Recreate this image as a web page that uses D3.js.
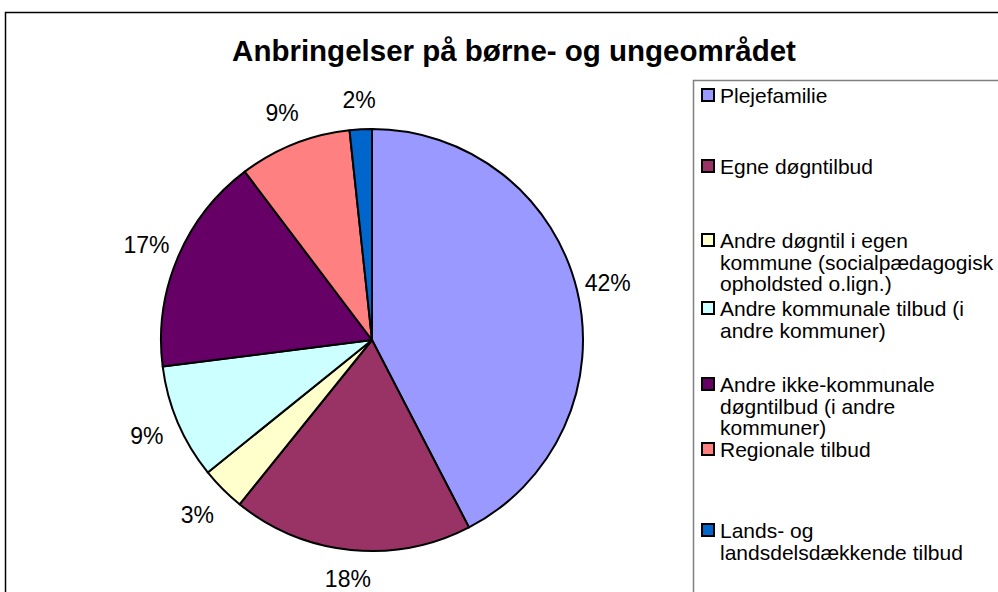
<!DOCTYPE html>
<html>
<head>
<meta charset="utf-8">
<script src="https://cdn.jsdelivr.net/npm/d3@7"></script>
<style>
  body { margin: 0; background: #fff; }
  svg { display: block; font-family: Arial, "Liberation Sans", sans-serif; }
</style>
</head>
<body>
<svg id="chart" width="998" height="592"></svg>
<script>
let titleText = "Anbringelser på børne- og ungeområdet";

let categories = [
  "Plejefamilie",
  "Egne døgntilbud",
  "Andre døgntil i egen kommune (socialpædagogisk opholdsted o.lign.)",
  "Andre kommunale tilbud (i andre kommuner)",
  "Andre ikke-kommunale døgntilbud (i andre kommuner)",
  "Regionale tilbud",
  "Lands- og landsdelsdækkende tilbud"
];

// legend text as it wraps in the picture
let legendLines = [
  ["Plejefamilie"],
  ["Egne døgntilbud"],
  ["Andre døgntil i egen", "kommune (socialpædagogisk", "opholdsted o.lign.)"],
  ["Andre kommunale tilbud (i", "andre kommuner)"],
  ["Andre ikke-kommunale", "døgntilbud (i andre", "kommuner)"],
  ["Regionale tilbud"],
  ["Lands- og", "landsdelsdækkende tilbud"]
];

let shares = [42.4, 18.4, 3.4, 8.8, 16.7, 8.6, 1.7];

let sliceColors = ["#9999ff", "#993366", "#ffffcc", "#ccffff", "#660066", "#ff8080", "#0066cc"];

let svg = d3.select("#chart");

// outer chart frame
svg.append("rect")
  .attr("x", 5.5)
  .attr("y", 12.5)
  .attr("width", 1000)
  .attr("height", 600)
  .attr("fill", "#fff")
  .attr("stroke", "#000")
  .attr("stroke-width", 1.5);

svg.append("text")
  .attr("x", 514)
  .attr("y", 61)
  .attr("text-anchor", "middle")
  .attr("font-size", 29.5)
  .attr("font-weight", "bold")
  .text(titleText);

let cx = 372, cy = 340, radius = 211;

let pie = d3.pie().sort(null).value((d) => d)(shares);
let arc = d3.arc().innerRadius(0).outerRadius(radius);

// labels sit a bit further out on the diagonals, like Excel's box placement
let labelPos = (d) => {
  let a = (d.startAngle + d.endAngle) / 2;
  let r = 239 + 8 * Math.abs(Math.sin(2 * a));
  return [Math.sin(a) * r, -Math.cos(a) * r];
};

let pieGroup = svg.append("g").attr("transform", "translate(" + cx + "," + cy + ")");

pieGroup.selectAll("path")
  .data(pie)
  .enter()
  .append("path")
  .attr("d", arc)
  .attr("fill", (d, i) => sliceColors[i])
  .attr("stroke", "#000")
  .attr("stroke-width", 2)
  .attr("stroke-linejoin", "round");

pieGroup.selectAll("text")
  .data(pie)
  .enter()
  .append("text")
  .attr("transform", (d) => "translate(" + labelPos(d) + ")")
  .attr("text-anchor", "middle")
  .attr("dominant-baseline", "central")
  .attr("font-size", 23)
  .attr("fill", "#000")
  .text((d) => Math.round(d.value) + "%");

// legend box
svg.append("rect")
  .attr("x", 693.5)
  .attr("y", 80.5)
  .attr("width", 400)
  .attr("height", 600)
  .attr("fill", "#fff")
  .attr("stroke", "#808080")
  .attr("stroke-width", 1.5);

let legendBaseline = [103, 174, 248, 316, 392, 457, 538];
let lineStep = 21.6;

let legend = svg.selectAll(".legend-item")
  .data(categories)
  .enter()
  .append("g")
  .attr("class", "legend-item")
  .attr("transform", (d, i) => "translate(0," + legendBaseline[i] + ")");

legend.append("rect")
  .attr("x", 702)
  .attr("y", -14)
  .attr("width", 12)
  .attr("height", 12)
  .attr("fill", (d, i) => sliceColors[i])
  .attr("stroke", "#000")
  .attr("stroke-width", 2);

legend.append("text")
  .attr("x", 720)
  .attr("y", 0)
  .attr("font-size", 21)
  .attr("fill", "#000")
  .selectAll("tspan")
  .data((d, i) => legendLines[i])
  .enter()
  .append("tspan")
  .attr("x", 720)
  .attr("dy", (d, j) => (j === 0 ? 0 : lineStep))
  .text((d) => d);
</script>
</body>
</html>
